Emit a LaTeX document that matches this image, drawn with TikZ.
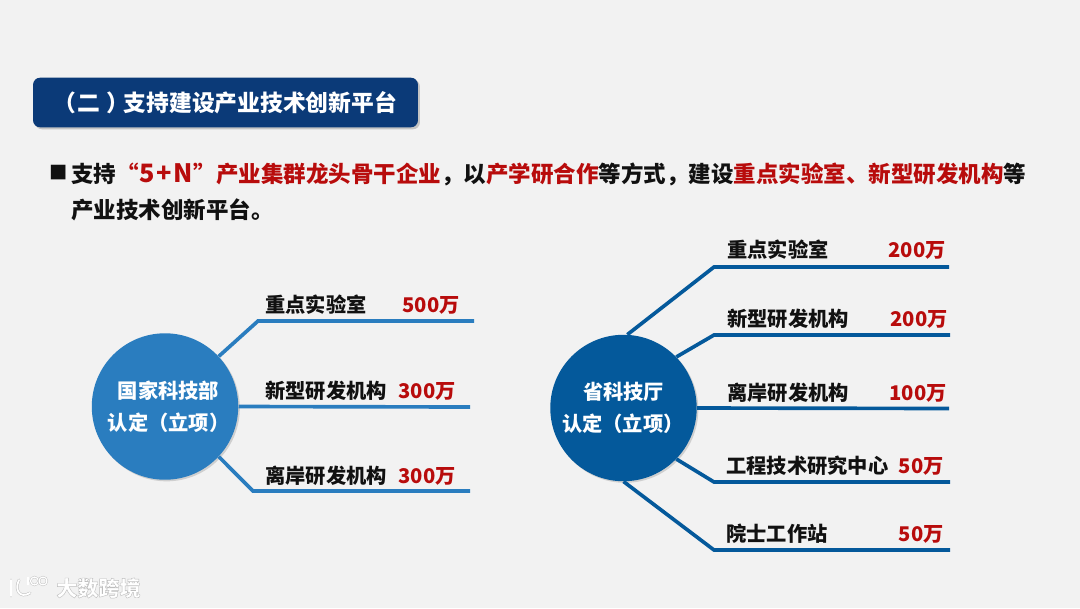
\documentclass[tikz,border=0pt]{standalone}
\usepackage{fontspec}
\setmainfont{Noto Sans CJK SC}
\usepackage{tikz}
\usetikzlibrary{positioning,calc,shadows}
\definecolor{PageBg}{HTML}{F2F2F2}
\definecolor{TitleNavy}{HTML}{0B3A78}
\definecolor{BlueLight}{HTML}{2A7DBF}
\definecolor{BlueDark}{HTML}{04599B}
\definecolor{RedAccent}{HTML}{B80C0C}
\definecolor{InkBlack}{HTML}{111111}
\definecolor{MarkGrey}{HTML}{BDBDBD}
\definecolor{White}{HTML}{FFFFFF}
\tikzset{
  hubnode/.style={circle, minimum size=3.66cm, inner sep=0pt, align=center, text=White, font=\fontsize{14.4}{22.5}\selectfont\bfseries, drop shadow={shadow xshift=0.04cm, shadow yshift=-0.04cm, opacity=0.3}},
  itemname/.style={anchor=west, inner sep=0pt, text=InkBlack, font=\fontsize{14.4}{16}\selectfont\bfseries},
  itemvalue/.style={anchor=east, inner sep=0pt, text=RedAccent, font=\fontsize{14.4}{16}\selectfont\bfseries},
  branchA/.style={line width=2.6pt, color=BlueLight, line join=miter},
  branchB/.style={line width=2.6pt, color=BlueDark, line join=miter},
  markthick/.style={MarkGrey, double=White, double distance=1.3pt, line width=0.35pt, line cap=round},
  markthin/.style={MarkGrey, double=White, double distance=0.9pt, line width=0.3pt}
}
\newcommand{\hl}[1]{\textcolor{RedAccent}{#1}}
\newcommand{\outlined}[1]{\special{pdf:code 0.74 G 0.3 w 2 Tr}#1\special{pdf:code 0 Tr}}
\begin{document}
\begin{tikzpicture}[x=0.025cm, y=-0.025cm]
      \useasboundingbox (0,0) rectangle (1080,608);
      \fill [PageBg] (0,0) rectangle (1080,608);

      % Title and text
      \node [fill=TitleNavy, rectangle, rounded corners=5pt, minimum width=9.62cm, minimum height=1.24cm, inner sep=0pt, drop shadow={shadow xshift=0.05cm, shadow yshift=-0.05cm, opacity=0.4}] (titlebar) at (225.5,102.5) {};
      \node [anchor=west, inner sep=0pt, text=White, font=\fontsize{16.2}{18}\selectfont\bfseries] (titletext) at (53,103) {（\kern0.075em 二\kern0.27em ）\kern-0.255em 支持建设产业技术创新平台};
      \node [anchor=center, inner sep=0pt, text=InkBlack, font=\fontsize{13}{14}\selectfont] (bullet) at (59,173) {■};
      \node [anchor=north west, inner sep=0pt, align=left, text=InkBlack, font=\fontsize{16}{25.6}\selectfont\bfseries] (bodytext) at (71,163) {支持\hl{“\kern0.05em{\fontsize{18}{25.6}\selectfont 5\kern0.05em +\kern0.05em N}\kern0.05em ”产业集群龙头骨干企业}，以\hl{产学研合作}等方式，建设\hl{重点实验室、新型研发机构}等\\产业技术创新平台。};

      % Nodes, left
      \node [hubnode, fill=BlueLight] (guojia) at (165,406.5) {\hspace*{0.18cm}国家科技部\\\hspace*{0.18cm}认定（立项）};
      \coordinate (ga) at (258,321);
      \coordinate (gb) at (253,491);
      \coordinate (gaend) at (474,321);
      \coordinate (gcend) at (470,407);
      \coordinate (gbend) at (470,491);
      \node [itemname] (gname1) at (265,305) {重点实验室};
      \node [itemvalue] (gval1) at (460,305) {500万};
      \node [itemname] (gname2) at (265,391) {新型研发机构};
      \node [itemvalue] (gval2) at (456,391) {300万};
      \node [itemname] (gname3) at (265,476) {离岸研发机构};
      \node [itemvalue] (gval3) at (456,476) {300万};

      % Nodes, right
      \node [hubnode, fill=BlueDark] (shengting) at (623.5,408) {省科技厅\\\hspace*{-0.03cm}认定（立项）};
      \coordinate (sa) at (714,267);
      \coordinate (sb) at (714,335);
      \coordinate (sd) at (714,482);
      \coordinate (se) at (714,550);
      \coordinate (saend) at (949,267);
      \coordinate (sbend) at (950,335);
      \coordinate (scend) at (949,408.5);
      \coordinate (sdend) at (950,482);
      \coordinate (seend) at (950,550);
      \node [itemname] (sname1) at (727,250) {重点实验室};
      \node [itemvalue] (sval1) at (946,250) {200万};
      \node [itemname] (sname2) at (727,319) {新型研发机构};
      \node [itemvalue] (sval2) at (948,319) {200万};
      \node [itemname] (sname3) at (727,393) {离岸研发机构};
      \node [itemvalue] (sval3) at (947,393) {100万};
      \node [itemname] (sname4) at (726,466) {工程技术研究中心};
      \node [itemvalue] (sval4) at (944,466) {50万};
      \node [itemname] (sname5) at (726,534) {院士工作站};
      \node [itemvalue] (sval5) at (944,534) {50万};

      % Branches
      \draw [branchA] (guojia.43) -- (ga) -- (gaend);
      \draw [branchA] (guojia.east) -- (gcend);
      \draw [branchA] (guojia.-43) -- (gb) -- (gbend);
      \draw [branchB] (shengting.87) -- (sa) -- (saend);
      \draw [branchB] (shengting.44) -- (sb) -- (sbend);
      \draw [branchB] (shengting.east) -- (scend);
      \draw [branchB] (shengting.-44) -- (sd) -- (sdend);
      \draw [branchB] (shengting.-90) -- (se) -- (seend);

      % Watermark
      \node [anchor=west, inner sep=0pt, text=White, font=\fontsize{15}{17}\selectfont\bfseries] (marktext) at (56,588) {\outlined{大数跨境}};
      \draw [markthick] (11,580) -- (11,596);
      \draw [markthick] (19,580) .. controls (14,590) and (20,599) .. (30,593);
      \draw [markthin] (28,577) -- (28,585);
      \draw [markthin] (34.5,581) circle (4);
      \draw [markthin] (43,581) circle (4);
    \end{tikzpicture}
\end{document}
